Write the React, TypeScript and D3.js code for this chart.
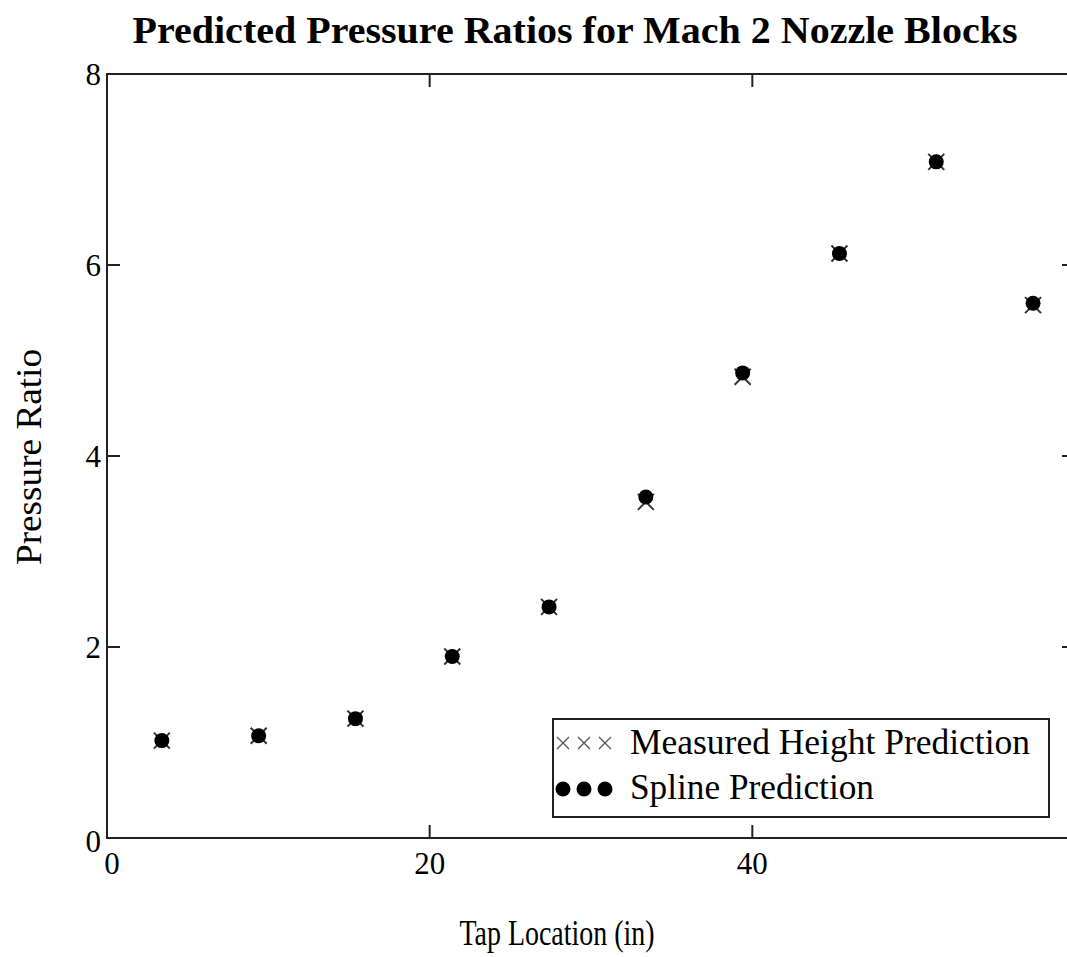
import React, { useRef, useEffect } from "react";
import * as d3 from "d3";

// tap locations (in) and the two predictions
const tapLocation = [3.4, 9.4, 15.4, 21.4, 27.4, 33.4, 39.4, 45.4, 51.4, 57.4];
const splinePrediction = [1.02, 1.07, 1.25, 1.9, 2.42, 3.57, 4.87, 6.12, 7.08, 5.6];
const measuredPrediction = [1.02, 1.07, 1.25, 1.9, 2.42, 3.52, 4.83, 6.12, 7.08, 5.58];
const xTicks = [0, 20, 40];
const yTicks = [0, 2, 4, 6, 8];
const legendLabels = ["Measured Height Prediction", "Spline Prediction"];

const FONT = "'Liberation Serif', 'DejaVu Serif', serif";

const App = () => {
  const svgRef = useRef<SVGSVGElement>(null);
  const width = 1067;
  const height = 957;
  const left = 107;
  const top = 74;
  const bottom = 838;
  const right = 1075; // frame runs a bit past the picture edge

  useEffect(() => {
    const svg = d3.select(svgRef.current);
    svg.selectAll("*").remove();

    const x = d3.scaleLinear().domain([0, 60]).range([left, right]);
    const y = d3.scaleLinear().domain([0, 8]).range([bottom, top]);

    // frame
    svg.append("rect")
      .attr("x", left).attr("y", top)
      .attr("width", right - left).attr("height", bottom - top)
      .attr("fill", "none").attr("stroke", "#222").attr("stroke-width", 2);

    // ticks (inward, on all four sides)
    const tickLen = 13;
    const g = svg.append("g").attr("stroke", "#222").attr("stroke-width", 2);
    xTicks.filter(t => t > 0).forEach(t => {
      g.append("line").attr("x1", x(t)).attr("x2", x(t)).attr("y1", bottom).attr("y2", bottom - tickLen);
      g.append("line").attr("x1", x(t)).attr("x2", x(t)).attr("y1", top).attr("y2", top + tickLen);
    });
    yTicks.filter(t => t > 0 && t < 8).forEach(t => {
      g.append("line").attr("x1", left).attr("x2", left + tickLen).attr("y1", y(t)).attr("y2", y(t));
      g.append("line").attr("x1", right).attr("x2", right - tickLen).attr("y1", y(t)).attr("y2", y(t));
    });

    // tick labels
    svg.append("g")
      .selectAll("text")
      .data(xTicks)
      .join("text")
      .attr("x", d => x(d) + (d === 0 ? 5 : 0))
      .attr("y", 874)
      .attr("text-anchor", "middle")
      .attr("font-family", FONT).attr("font-size", 31)
      .text(d => d);
    svg.append("g")
      .selectAll("text")
      .data(yTicks)
      .join("text")
      .attr("x", 101)
      .attr("y", d => y(d) + (d === 0 ? 14 : 11))
      .attr("text-anchor", "end")
      .attr("font-family", FONT).attr("font-size", 31)
      .text(d => d);

    // measured height prediction: crosses
    const cross = 8;
    svg.append("g")
      .selectAll("path")
      .data(tapLocation.map((t, i) => [t, measuredPrediction[i]]))
      .join("path")
      .attr("d", d => {
        const cx = x(d[0]), cy = y(d[1]);
        return `M${cx - cross},${cy - cross}L${cx + cross},${cy + cross}M${cx - cross},${cy + cross}L${cx + cross},${cy - cross}`;
      })
      .attr("stroke", "#333").attr("stroke-width", 2).attr("fill", "none");

    // spline prediction: filled dots
    svg.append("g")
      .selectAll("circle")
      .data(tapLocation.map((t, i) => [t, splinePrediction[i]]))
      .join("circle")
      .attr("cx", d => x(d[0]))
      .attr("cy", d => y(d[1]))
      .attr("r", 7.5)
      .attr("fill", "#000");

    // legend
    const lg = svg.append("g");
    lg.append("rect")
      .attr("x", 553).attr("y", 719).attr("width", 496).attr("height", 98)
      .attr("fill", "#fff").attr("stroke", "#222").attr("stroke-width", 2);
    [0, 1, 2].forEach(k => {
      const cx = 563 + k * 21;
      lg.append("path")
        .attr("d", `M${cx - 6},${737}L${cx + 6},${749}M${cx - 6},${749}L${cx + 6},${737}`)
        .attr("stroke", "#555").attr("stroke-width", 1.3);
      lg.append("circle").attr("cx", cx).attr("cy", 789).attr("r", 7.5).attr("fill", "#000");
    });
    lg.selectAll("text.lab")
      .data(legendLabels)
      .join("text")
      .attr("class", "lab")
      .attr("x", 630)
      .attr("y", (d, i) => 754 + i * 45)
      .attr("font-family", FONT).attr("font-size", 35)
      .attr("textLength", (d, i) => (i === 0 ? 400 : 244))
      .attr("lengthAdjust", "spacingAndGlyphs")
      .text(d => d);

    // titles
    svg.append("text")
      .attr("x", 575).attr("y", 43)
      .attr("text-anchor", "middle")
      .attr("font-family", FONT).attr("font-size", 38).attr("font-weight", "bold")
      .attr("textLength", 885).attr("lengthAdjust", "spacingAndGlyphs")
      .text("Predicted Pressure Ratios for Mach 2 Nozzle Blocks");
    svg.append("text")
      .attr("x", 557).attr("y", 945)
      .attr("text-anchor", "middle")
      .attr("font-family", FONT).attr("font-size", 35)
      .attr("textLength", 195).attr("lengthAdjust", "spacingAndGlyphs")
      .text("Tap Location (in)");
    svg.append("text")
      .attr("transform", "translate(41,457) rotate(-90)")
      .attr("text-anchor", "middle")
      .attr("font-family", FONT).attr("font-size", 35)
      .attr("textLength", 216).attr("lengthAdjust", "spacingAndGlyphs")
      .text("Pressure Ratio");
  });

  return (
    <svg ref={svgRef} width={width} height={height}
      style={{ position: "absolute", left: 0, top: 0, background: "#fff" }} />
  );
};

export default App;
